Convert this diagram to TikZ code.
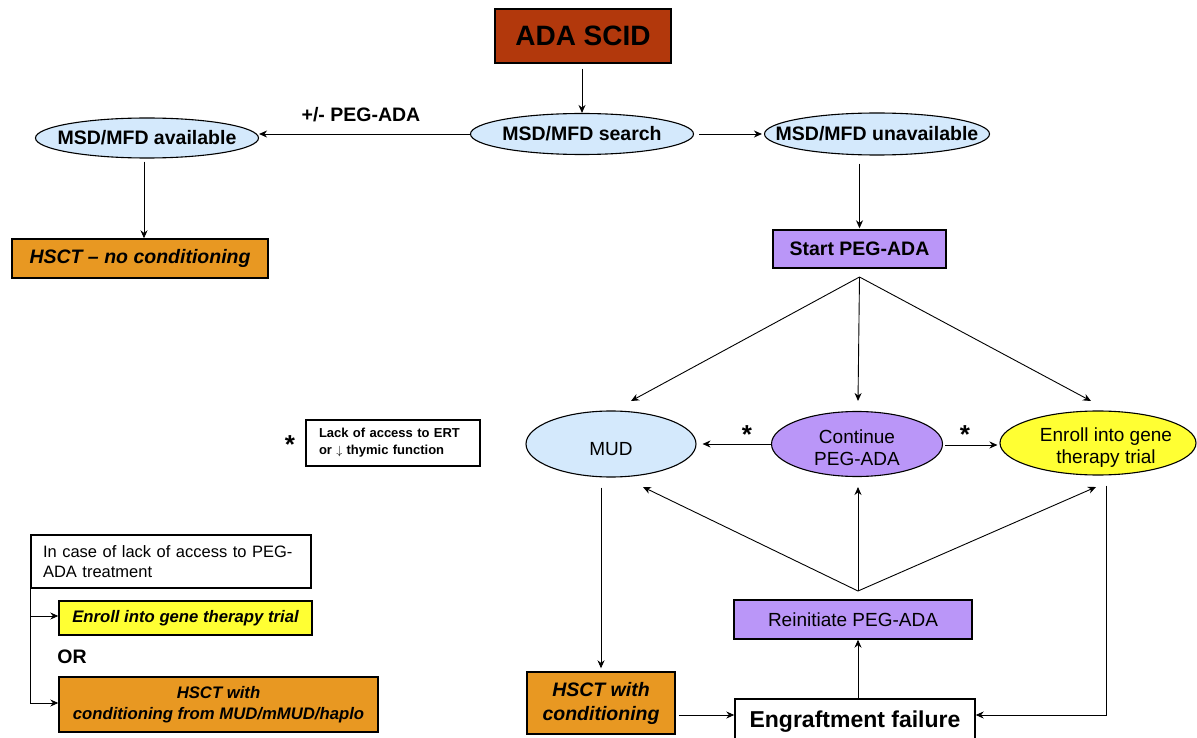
\documentclass[tikz,border=0pt]{standalone}
\usepackage{fontspec}
\setmainfont{Liberation Sans}
\usetikzlibrary{shapes.geometric,arrows.meta}
\definecolor{adared}{RGB}{178,56,12}
\definecolor{lblue}{RGB}{212,233,252}
\definecolor{orng}{RGB}{232,152,34}
\definecolor{purp}{RGB}{186,150,248}
\definecolor{yell}{RGB}{255,255,51}
\begin{document}
\begin{tikzpicture}[x=1pt,y=-1pt,
  box/.style={draw, rectangle, line width=1.4pt, inner sep=0pt, align=center},
  ell/.style={draw, ellipse, line width=1.1pt, inner sep=0pt},
  arr/.style={-{Stealth[length=8pt,width=7pt]}, line width=0.9pt},
  ln/.style={line width=0.9pt},
  fb/.style={font=\fontsize{19.5}{23}\selectfont\bfseries},
  fr/.style={font=\fontsize{19}{22}\selectfont},
  fbi/.style={font=\fontsize{19.5}{24}\selectfont\bfseries\itshape},
  starn/.style={font=\fontsize{26}{26}\selectfont\bfseries, anchor=base, inner sep=0pt}
]
\useasboundingbox (0,0) rectangle (1197,738);
\clip (0,0) rectangle (1197,738);

% top part
\node[box, fill=adared, minimum width=176pt, minimum height=54pt, font=\fontsize{28}{30}\selectfont\bfseries] (ada) at (583,36) {ADA SCID};
\node[ell, fill=lblue, minimum width=223pt, minimum height=41pt, label={[fb]center:MSD/MFD search}] (search) at (582,134) {};
\node[ell, fill=lblue, minimum width=223pt, minimum height=40pt, label={[fb]center:MSD/MFD available}] (avail) at (147,138) {};
\node[ell, fill=lblue, minimum width=225pt, minimum height=42pt, label={[fb]center:MSD/MFD unavailable}] (unavail) at (877,134) {};
\node[box, fill=orng, minimum width=256pt, minimum height=39pt, fbi] (hsct0) at (140,258.5) {HSCT -- no conditioning};
\node[box, fill=purp, minimum width=173pt, minimum height=38pt, fb] (start) at (859.5,249) {Start PEG-ADA};
\node[fb, inner sep=0pt] (peg) at (361,115) {+/- PEG-ADA};

% middle row
\node[ell, fill=lblue, minimum width=170pt, minimum height=66pt, label={[fr, yshift=-5pt]center:MUD}] (mud) at (611,444) {};
\node[ell, fill=purp, minimum width=171pt, minimum height=65pt, label={[fr, align=center, yshift=-4pt]center:{Continue\\PEG-ADA}}] (cont) at (857,444) {};
\node[ell, fill=yell, minimum width=196pt, minimum height=64pt, label={[fr, align=center, xshift=8pt, yshift=-5pt]center:{Enroll into gene\\therapy trial}}] (enroll) at (1098,443) {};
\node[starn] (s1) at (747,443) {*};
\node[starn] (s2) at (965,443) {*};

% bottom
\node[box, fill=purp, minimum width=238pt, minimum height=39pt, fr] (reinit) at (853,619.5) {Reinitiate PEG-ADA};
\node[box, fill=white, minimum width=240pt, minimum height=46pt, font=\fontsize{23}{26}\selectfont\bfseries] (engraft) at (855,722) {Engraftment failure};
\node[box, fill=orng, minimum width=148pt, minimum height=62pt, fbi] (hsctc) at (601,703) {HSCT with\\conditioning};

% legend
\node[starn] (s0) at (290,453) {*};
\node[draw, rectangle, line width=1.2pt, minimum width=174pt, minimum height=46pt, text width=148pt, inner xsep=13pt, inner ysep=0pt, align=left, font=\fontsize{13}{17}\selectfont\bfseries] (note) at (393,443) {Lack of access to ERT\\or $\downarrow$ thymic function};
\node[draw, rectangle, line width=1.2pt, minimum width=280pt, minimum height=53pt, text width=256pt, inner xsep=12pt, inner ysep=0pt, align=left, font=\fontsize{16.5}{20}\selectfont] (incase) at (171,561.5) {In case of lack of access to PEG-\\ADA treatment};
\node[box, fill=yell, minimum width=253pt, minimum height=34pt, font=\fontsize{16.7}{20}\selectfont\bfseries\itshape] (yellow) at (185.5,618) {Enroll into gene therapy trial};
\node[fb, inner sep=0pt] (or) at (72,657) {OR};
\node[box, fill=orng, minimum width=319pt, minimum height=55pt, font=\fontsize{16.7}{21}\selectfont\bfseries\itshape] (orange) at (218.5,704.5) {HSCT with\\conditioning from MUD/mMUD/haplo};

% coordinates
\coordinate (fan) at (859.5,277);
\coordinate (fm) at (631,401);
\coordinate (fc) at (858,401);
\coordinate (fe) at (1091,401);
\coordinate (jn) at (858,591);
\coordinate (jm) at (643,487);
\coordinate (jc) at (858,487);
\coordinate (je) at (1096,487);
\coordinate (ec) at (1106,715);

% connectors
\draw[arr, shorten <=5pt] (ada.south -| search.north) -- (search.north);
\draw[arr] (search.west) -- (search.west -| avail.east);
\draw[arr, shorten <=5pt, shorten >=2pt] (search.east) -- (search.east -| unavail.west);
\draw[arr, shorten <=3pt] ([xshift=-3pt]avail.south) -- ([xshift=-3pt]avail.south |- hsct0.north);
\draw[arr, shorten <=8pt, shorten >=1pt] (start.north |- unavail.south) -- (start.north);
\draw[ln, shorten <=9pt] (start.south) -- (fan);
\draw[arr] (fan) -- (fm);
\draw[arr] (fan) -- (fc);
\draw[arr] (fan) -- (fe);
\draw[arr, shorten >=6pt] (cont.west) -- (cont.west -| mud.east);
\draw[arr, shorten <=2pt, shorten >=2pt] ([yshift=-1pt]cont.east) -- ([yshift=-1pt]cont.east -| enroll.west);
\draw[arr, shorten <=10pt, shorten >=3pt] (hsctc.north |- mud.south) -- (hsctc.north);
\draw[arr] (jn) -- (jm);
\draw[arr] (jn) -- (jc);
\draw[arr] (jn) -- (je);
\draw[arr] (engraft.north -| jn) -- (reinit.south -| jn);
\draw[arr, shorten <=3pt] (hsctc.east |- ec) -- (engraft.west |- ec);
\draw[arr, shorten <=10pt] (enroll.south -| ec) -- (ec) -- (engraft.east |- ec);
\draw[arr] (incase.south west) |- ([yshift=2pt]yellow.west);
\draw[arr] (incase.south west) |- ([yshift=1.5pt]orange.west);
\end{tikzpicture}
\end{document}
